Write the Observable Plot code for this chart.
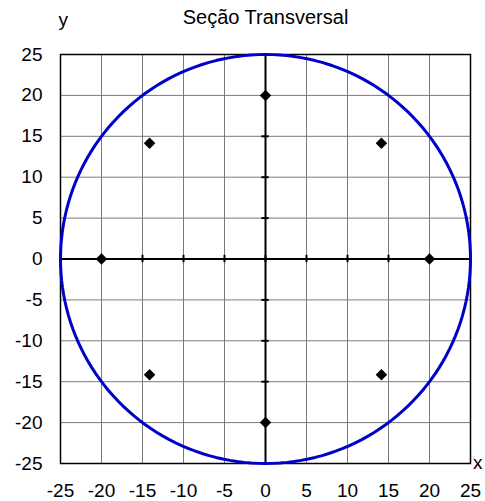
<!DOCTYPE html>
<html><head><meta charset="utf-8">
<script src="https://cdn.jsdelivr.net/npm/d3@7"></script>
<script src="https://cdn.jsdelivr.net/npm/@observablehq/plot@0.6"></script>
<style>body{margin:0;background:#fff}</style>
</head><body><div id="chart"></div>
<script>
const title = "Seção Transversal";
const tickValues = [-25, -20, -15, -10, -5, 0, 5, 10, 15, 20, 25];
const circleRadius = 25;
const pointsX = [0, 14.14, 20, 14.14, 0, -14.14, -20, -14.14];
const pointsY = [20, 14.14, 0, -14.14, -20, -14.14, 0, 14.14];

const points = pointsX.map((x, i) => ({x, y: pointsY[i]}));
const circle = d3.range(0, 361, 2).map(a => ({
  x: circleRadius * Math.cos(a * Math.PI / 180),
  y: circleRadius * Math.sin(a * Math.PI / 180)
}));
const inner = tickValues.filter(v => v !== -25 && v !== 25);

const chart = Plot.plot({
  width: 485, height: 501,
  marginLeft: 60, marginTop: 54, marginRight: 15, marginBottom: 38,
  style: {fontFamily: "Liberation Sans, Arial, sans-serif", fontSize: "19px", background: "#fff", color: "#000"},
  x: {domain: [-25, 25], ticks: tickValues},
  y: {domain: [-25, 25], ticks: tickValues},
  marks: [
    Plot.gridX(inner, {stroke: "#7a7a7a", strokeOpacity: 1}),
    Plot.gridY(inner, {stroke: "#7a7a7a", strokeOpacity: 1}),
    Plot.ruleX([0], {stroke: "#000", strokeWidth: 2}),
    Plot.ruleY([0], {stroke: "#000", strokeWidth: 2}),
    Plot.ruleX(inner, {x: d => d, y1: -0.45, y2: 0.45, stroke: "#000", strokeWidth: 2}),
    Plot.ruleY(inner, {y: d => d, x1: -0.45, x2: 0.45, stroke: "#000", strokeWidth: 2}),
    Plot.frame({stroke: "#000", strokeWidth: 1.5}),
    Plot.line(circle, {x: "x", y: "y", stroke: "#0000c8", strokeWidth: 3}),
    Plot.dot(points, {x: "x", y: "y", symbol: "square", rotate: 45, r: 4.6, fill: "#000"}),
    Plot.axisX({ticks: tickValues, tickSize: 0, tickPadding: 20, label: null, tickFormat: d => String(d), fontSize: 19}),
    Plot.axisY({ticks: tickValues, tickSize: 0, tickPadding: 18, label: null, tickFormat: d => String(d), fontSize: 19}),
    Plot.text([title], {frameAnchor: "top", dy: -45, text: d => d, fontSize: 20}),
    Plot.text(["y"], {frameAnchor: "top-left", dy: -42, dx: -2, text: d => d, fontSize: 19}),
    Plot.text(["x"], {frameAnchor: "bottom-right", dx: 12, dy: 5, text: d => d, fontSize: 19})
  ]
});
document.getElementById("chart").appendChild(chart);
</script>
</body></html>
